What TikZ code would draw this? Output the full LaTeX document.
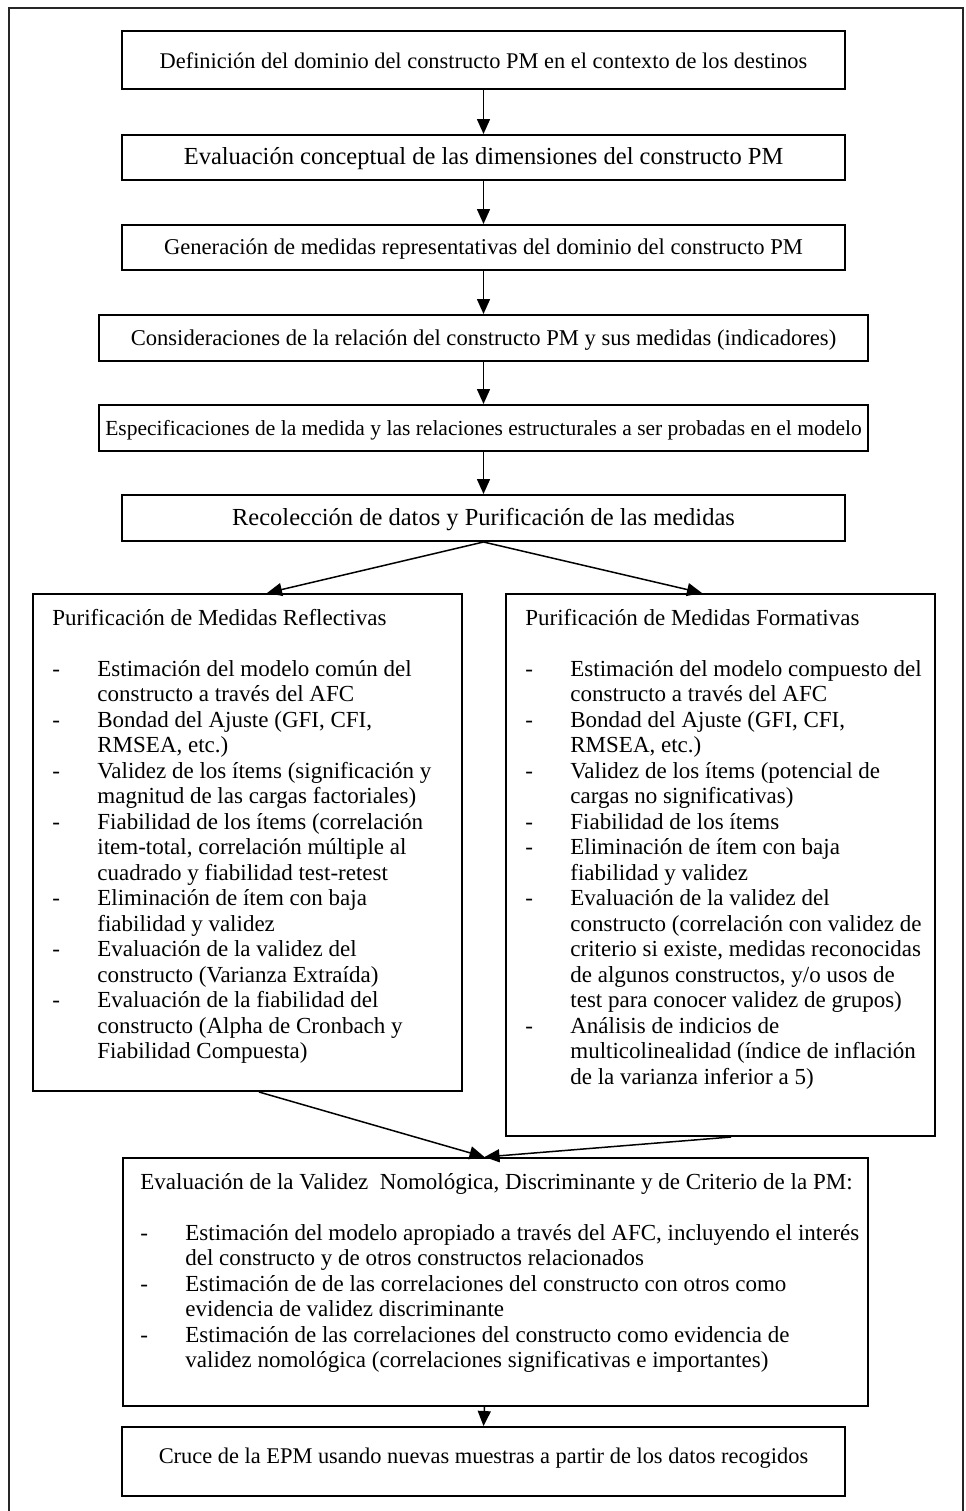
\documentclass[tikz,border=0pt]{standalone}
\usepackage{fontspec}
\setmainfont{Liberation Serif}
\usetikzlibrary{arrows.meta}

\begin{document}
\begin{tikzpicture}[x=0.5pt,y=-0.5pt,
  frame/.style={line width=0.9pt, draw=black!85},
  box/.style={draw=black, line width=1pt, inner sep=0pt},
  stepbox/.style={box, text height=9pt, text depth=2pt},
  fs/.style={font=\fontsize{#1}{12.75pt}\selectfont},
  listtext/.style={inner sep=0pt, anchor=base west, fs=11.5pt},
  flow/.style={-{Triangle[width=6.5pt,length=7.5pt]}, line width=0.75pt}]

\useasboundingbox (0,0) rectangle (965,1511);

% outer frame, open at the bottom
\draw[frame] (9,1511) -- (9,8) -- (963,8) -- (963,1511);

% sequential steps
\node[stepbox, fs=11.2pt, minimum width=361.5pt, minimum height=29pt,
      text height=9.5pt, text depth=1.5pt] (s1) at (483.5,60)
  {Definición del dominio del constructo PM en el contexto de los destinos};
\node[stepbox, fs=12.25pt, minimum width=361.5pt, minimum height=22.5pt] (s2) at (483.5,157.5)
  {Evaluación conceptual de las dimensiones del constructo PM};
\node[stepbox, fs=11.3pt, minimum width=361.5pt, minimum height=22.5pt] (s3) at (483.5,247.5)
  {Generación de medidas representativas del dominio del constructo PM};
\node[stepbox, fs=11.3pt, minimum width=384.5pt, minimum height=23pt] (s4) at (483.5,338)
  {Consideraciones de la relación del constructo PM y sus medidas (indicadores)};
\node[stepbox, fs=10.75pt, minimum width=384.5pt, minimum height=23pt] (s5) at (483.5,428)
  {Especificaciones de la medida y las relaciones estructurales a ser probadas en el modelo};
\node[stepbox, fs=12.25pt, minimum width=361.5pt, minimum height=23pt] (s6) at (483.5,518)
  {Recolección de datos y Purificación de las medidas};

% purification branches
\node[box, anchor=north west, minimum width=214.5pt, minimum height=248.5pt] (refl) at (32,593) {};
\node[box, anchor=north west, minimum width=214.5pt, minimum height=271pt] (form) at (505,593) {};

\node[listtext] (refltext) at (52,625) {%
\begin{tabular}[t]{@{}p{22.5pt}@{}l@{}}
\multicolumn{2}{@{}l@{}}{Purificación de Medidas Reflectivas}\\
\\
- & Estimación del modelo común del\\
  & constructo a través del AFC\\
- & Bondad del Ajuste (GFI, CFI,\\
  & RMSEA, etc.)\\
- & Validez de los ítems (significación y\\
  & magnitud de las cargas factoriales)\\
- & Fiabilidad de los ítems (correlación\\
  & item-total, correlación múltiple al\\
  & cuadrado y fiabilidad test-retest\\
- & Eliminación de ítem con baja\\
  & fiabilidad y validez\\
- & Evaluación de la validez del\\
  & constructo (Varianza Extraída)\\
- & Evaluación de la fiabilidad del\\
  & constructo (Alpha de Cronbach y\\
  & Fiabilidad Compuesta)
\end{tabular}};

\node[listtext] (formtext) at (525,625) {%
\begin{tabular}[t]{@{}p{22.5pt}@{}l@{}}
\multicolumn{2}{@{}l@{}}{Purificación de Medidas Formativas}\\
\\
- & Estimación del modelo compuesto del\\
  & constructo a través del AFC\\
- & Bondad del Ajuste (GFI, CFI,\\
  & RMSEA, etc.)\\
- & Validez de los ítems (potencial de\\
  & cargas no significativas)\\
- & Fiabilidad de los ítems\\
- & Eliminación de ítem con baja\\
  & fiabilidad y validez\\
- & Evaluación de la validez del\\
  & constructo (correlación con validez de\\
  & criterio si existe, medidas reconocidas\\
  & de algunos constructos, y/o usos de\\
  & test para conocer validez de grupos)\\
- & Análisis de indicios de\\
  & multicolinealidad (índice de inflación\\
  & de la varianza inferior a 5)
\end{tabular}};

% validity assessment
\node[box, anchor=north west, minimum width=372.5pt, minimum height=124pt] (valid) at (122,1157) {};
\node[listtext] (validtext) at (140,1189) {%
\begin{tabular}[t]{@{}p{22.5pt}@{}l@{}}
\multicolumn{2}{@{}l@{}}{Evaluación de la Validez\ \ Nomológica, Discriminante y de Criterio de la PM:}\\
\\
- & Estimación del modelo apropiado a través del AFC, incluyendo el interés\\
  & del constructo y de otros constructos relacionados\\
- & Estimación de de las correlaciones del constructo con otros como\\
  & evidencia de validez discriminante\\
- & Estimación de las correlaciones del constructo como evidencia de\\
  & validez nomológica (correlaciones significativas e importantes)
\end{tabular}};

% cross-validation
\node[stepbox, fs=11.2pt, minimum width=361.5pt, minimum height=34.5pt,
      text height=8pt, text depth=6.5pt] (cross) at (483.5,1461.5)
  {Cruce de la EPM usando nuevas muestras a partir de los datos recogidos};

% connectors
\draw[flow] (s1.south) -- (s2.north);
\draw[flow] (s2.south) -- (s3.north);
\draw[flow] (s3.south) -- (s4.north);
\draw[flow] (s4.south) -- (s5.north);
\draw[flow] (s5.south) -- (s6.north);
\draw[flow] (s6.south) -- ([xshift=9.75pt]refl.north);
\draw[flow] (s6.south) -- ([xshift=-9.25pt]form.north);
\draw[flow] ([xshift=5.75pt]refl.south) -- ([xshift=-5.5pt]valid.north);
\draw[flow] ([xshift=5.25pt]form.south) -- ([xshift=-5.5pt]valid.north);
\draw[flow] ([xshift=-5.5pt]valid.south) -- (cross.north);

\end{tikzpicture}
\end{document}
